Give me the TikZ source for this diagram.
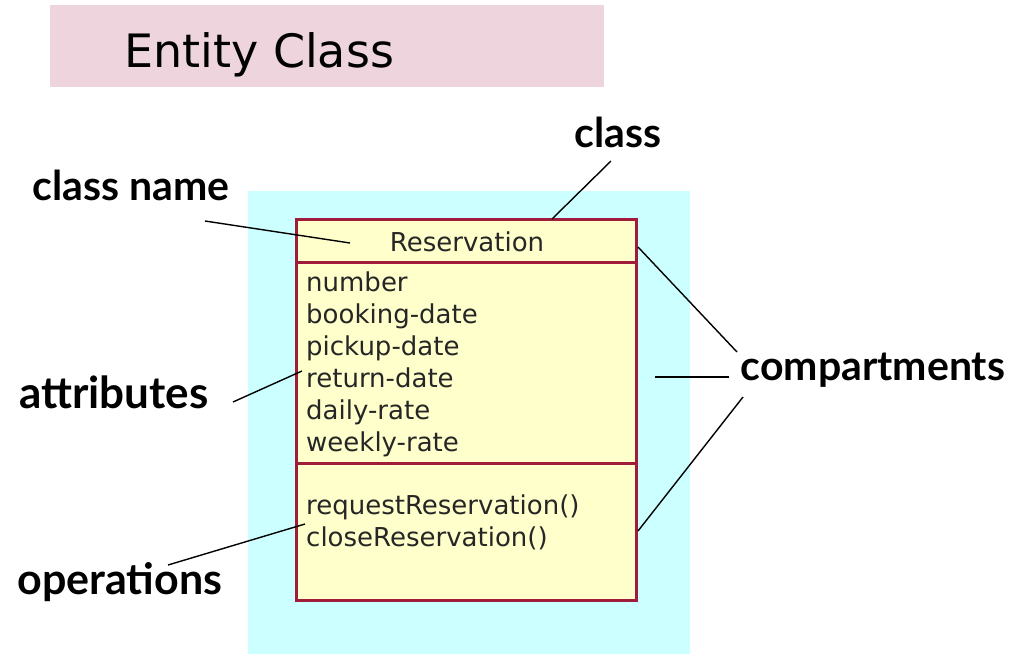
\documentclass[tikz,border=0pt]{standalone}
\usepackage{fontspec}
\setmainfont{DejaVu Sans}
\newfontfamily\notefont{Lato}
\usetikzlibrary{positioning}
\definecolor{bandpink}{HTML}{EED4DC}
\definecolor{panel}{HTML}{CCFFFF}
\definecolor{classfill}{HTML}{FFFFCC}
\definecolor{classline}{HTML}{A01C3A}
\tikzset{
  block/.style={draw=classline, line width=3pt, fill=classfill, inner sep=0pt,
                outer sep=0pt, minimum width=340pt},
  attr/.style={anchor=base west, inner sep=0pt, text=black!85,
               font=\fontsize{26}{30}\selectfont},
  note/.style={anchor=base, inner sep=0pt, font=\notefont\bfseries\fontsize{41}{48}\selectfont},
  lead/.style={line width=1.4pt, draw=black},
}

\begin{document}
\begin{tikzpicture}[x=1pt,y=-1pt]
  \useasboundingbox (0,0) rectangle (1013,654);
  % title band
  \node[fill=bandpink, minimum width=554pt, minimum height=82pt, inner sep=0pt] (band) at (327,46) {};
  \node[anchor=base west, inner sep=0pt, font=\fontsize{46}{52}\selectfont] (title) at (124,67) {Entity Class};
  % backdrop and the class box with its three compartments
  \node[fill=panel, minimum width=442pt, minimum height=463pt, inner sep=0pt] (bg) at (469,422.5) {};
  \node[block, minimum height=43pt] (cname) at (466,240.5) {};
  \node[block, minimum height=201pt] (cattr) at (466,362.5) {};
  \node[block, minimum height=137pt] (cops) at (466,531.5) {};
  \node[attr, anchor=base] (rname) at (467,251) {Reservation};
  \foreach \t [count=\i from 0] in {number,booking-date,pickup-date,return-date,daily-rate,weekly-rate}
    \node[attr] (a\i) at (306,{291+32*\i}) {\t};
  \node[attr] (op1) at (306,514) {requestReservation()};
  \node[attr] (op2) at (306,546) {closeReservation()};
  % callout labels
  \node[note] (cls) at (618,147) {class};
  \node[note] (clsname) at (131,200) {class name};
  \node[note, font=\notefont\bfseries\fontsize{44}{48}\selectfont] (attrs) at (114,408) {attributes};
  \node[note] (comps) at (873,380) {compartments};
  \node[note, font=\notefont\bfseries\fontsize{43}{48}\selectfont] (ops) at (120,594) {operations};
  % leader line ends
  \coordinate (clsA) at (611,161);   \coordinate (clsB) at (552,219);
  \coordinate (cnA) at (205,221);    \coordinate (cnB) at (350,243);
  \coordinate (atA) at (233,402);    \coordinate (atB) at (302,371);
  \coordinate (opA) at (168,565);    \coordinate (opB) at (305,524);
  \coordinate (cpA) at (737,352);    \coordinate (cpB) at (638,247);
  \coordinate (cpC) at (729,377);    \coordinate (cpD) at (655,377);
  \coordinate (cpE) at (743,397);    \coordinate (cpF) at (638,531);
  \draw[lead] (clsA) -- (clsB);
  \draw[lead] (cnA) -- (cnB);
  \draw[lead] (atA) -- (atB);
  \draw[lead] (opA) -- (opB);
  \draw[lead] (cpA) -- (cpB);
  \draw[lead] (cpC) -- (cpD);
  \draw[lead] (cpE) -- (cpF);
\end{tikzpicture}
\end{document}
